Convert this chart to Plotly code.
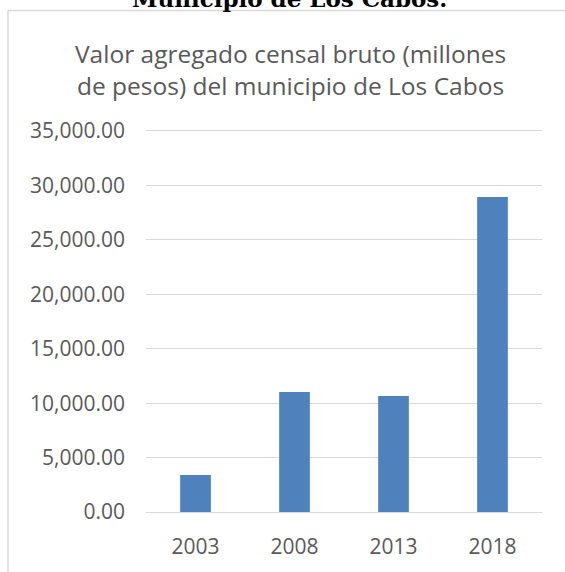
import plotly.graph_objects as go

years = ["2003", "2008", "2013", "2018"]
valores = [3390, 11030, 10665, 28940]
y_ticks = [0, 5000, 10000, 15000, 20000, 25000, 30000, 35000]
titulo_1 = "Valor agregado censal bruto (millones"
titulo_2 = "de pesos) del municipio de Los Cabos"
encabezado = "Municipio de Los Cabos."

W, H = 565, 572
L, R, T, B = 146, 23, 129, 55
pw, ph = W - L - R, H - T - B
PAD = 182.3  # small padding so edge gridlines are drawn

def px_x(px):
    return (px - L) / pw

def px_y(py):
    return (H - B - py) / ph

FONT = "Open Sans"
TXT = "#595959"

fig = go.Figure(go.Bar(
    x=years, y=valores,
    marker=dict(color="#4F81BD", line=dict(width=0)),
    hoverinfo="x+y",
))

fig.update_layout(
    width=W, height=H,
    margin=dict(l=L, r=R, t=T, b=B),
    paper_bgcolor="white", plot_bgcolor="white",
    bargap=0.69,
    showlegend=False,
    font=dict(family=FONT, color=TXT, size=21),
    xaxis=dict(type="category", showgrid=False, zeroline=False, showline=False,
               ticks="", tickfont=dict(size=21, color=TXT), ticklabelstandoff=18),
    yaxis=dict(range=[-PAD, 35000 + PAD], tickvals=y_ticks, tickformat=",.2f",
               showgrid=True, gridcolor="#D9D9D9", gridwidth=1.3,
               zeroline=False, showline=False, ticks="",
               tickfont=dict(size=21, color=TXT), ticklabelstandoff=20),
    shapes=[
        dict(type="line", xref="paper", yref="paper", x0=px_x(8), x1=px_x(W + 5),
             y0=px_y(9.5), y1=px_y(9.5), line=dict(color="#D9D9D9", width=1.5)),
        dict(type="line", xref="paper", yref="paper", x0=px_x(8), x1=px_x(8),
             y0=px_y(9.5), y1=px_y(H + 5), line=dict(color="#D9D9D9", width=1.5)),
    ],
    annotations=[
        dict(text=titulo_1, xref="paper", yref="paper", x=px_x(290), y=px_y(53),
             xanchor="center", yanchor="middle", showarrow=False,
             font=dict(family=FONT, size=24.5, color=TXT)),
        dict(text=titulo_2, xref="paper", yref="paper", x=px_x(290), y=px_y(85),
             xanchor="center", yanchor="middle", showarrow=False,
             font=dict(family=FONT, size=24.5, color=TXT)),
        dict(text="<b>" + encabezado + "</b>", xref="paper", yref="paper",
             x=px_x(289), y=px_y(13), xanchor="center", yanchor="bottom",
             showarrow=False,
             font=dict(family="DejaVu Serif", size=23, color="#000000")),
    ],
)

fig.write_html("out.html",
               config={"displayModeBar": False},
               post_script="document.body.style.margin='0';document.body.style.overflow='hidden';")
